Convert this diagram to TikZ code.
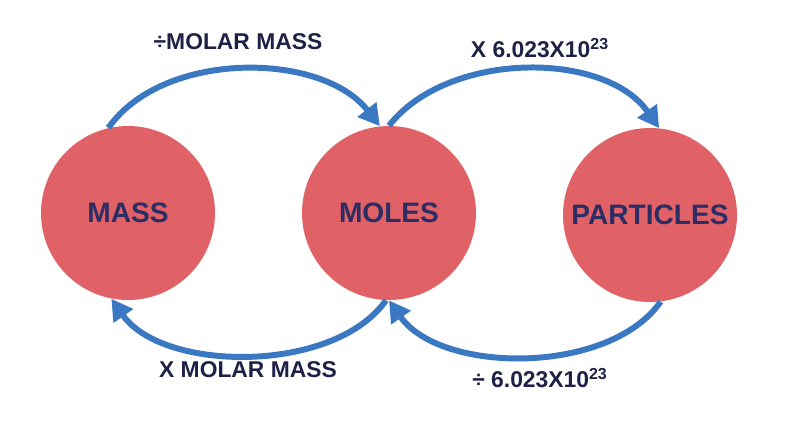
\documentclass[tikz,border=0pt]{standalone}
\usepackage{fontspec}
\setmainfont{Liberation Sans}
\usetikzlibrary{arrows.meta}
\definecolor{ballred}{RGB}{224,98,102}
\definecolor{inkblue}{RGB}{43,45,100}
\definecolor{arrowblue}{RGB}{58,120,194}
\tikzset{
  ball/.style={circle,fill=ballred,minimum size=174*0.02cm,inner sep=0pt,text=inkblue,font=\fontsize{16}{18}\selectfont\bfseries},
  conv/.style={draw=arrowblue,line width=3.4pt,-{Triangle[length=12pt,width=13pt]}},
  tag/.style={text=inkblue!70!black,font=\fontsize{13}{15}\selectfont\bfseries}
}
\begin{document}
\begin{tikzpicture}[x=0.02cm,y=-0.02cm]
\useasboundingbox (0,0) rectangle (786,426);
\node[ball] (mass) at (128,213) {MASS};
\node[ball] (moles) at (389,213) {MOLES};
\node[ball] (part) at (650,215) {PARTICLES};
\draw[conv] (mass.103) .. controls +(-55:95) and +(-128:95) .. (moles.96);
\draw[conv] (moles.90) .. controls +(-52:95) and +(-125:95) .. (part.84);
\draw[conv] (moles.268) .. controls +(125:90) and +(55:90) .. (mass.259);
\draw[conv] (part.277) .. controls +(125:90) and +(55:90) .. (moles.270);
\node[tag] (t1) at (238,42) {÷MOLAR MASS};
\node[tag] (t2) at (540,48) {X 6.023X10$^{\mathbf{23}}$};
\node[tag] (t3) at (248,370) {X MOLAR MASS};
\node[tag] (t4) at (540,378) {÷ 6.023X10$^{\mathbf{23}}$};
\end{tikzpicture}
\end{document}
